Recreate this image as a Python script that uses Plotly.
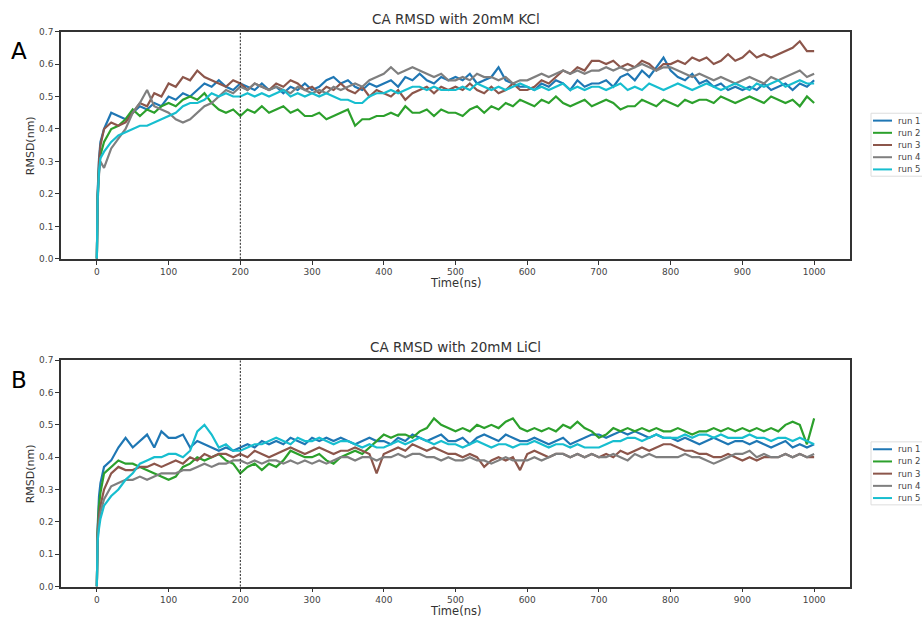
import plotly.graph_objects as go

time_ns = [0, 1, 3, 5] + list(range(10, 1001, 10))
run_names = ["run 1", "run 2", "run 3", "run 4", "run 5"]
run_colors = ["#1f77b4", "#2ca02c", "#8c564b", "#7f7f7f", "#17becf"]

kcl_run1 = [0.0, 0.20, 0.31, 0.36,
    0.40, 0.45, 0.44, 0.43, 0.45, 0.47, 0.46, 0.48, 0.47, 0.50,
    0.49, 0.51, 0.50, 0.52, 0.54, 0.53, 0.55, 0.53, 0.52, 0.54,
    0.53, 0.52, 0.54, 0.52, 0.53, 0.51, 0.53, 0.52, 0.54, 0.52,
    0.53, 0.55, 0.56, 0.54, 0.55, 0.53, 0.52, 0.54, 0.53, 0.54,
    0.55, 0.53, 0.56, 0.55, 0.57, 0.55, 0.54, 0.56, 0.55, 0.56,
    0.55, 0.57, 0.54, 0.55, 0.56, 0.59, 0.55, 0.54, 0.53, 0.53,
    0.52, 0.54, 0.53, 0.55, 0.54, 0.52, 0.55, 0.53, 0.54, 0.54,
    0.55, 0.53, 0.56, 0.57, 0.55, 0.58, 0.56, 0.59, 0.62, 0.58,
    0.56, 0.55, 0.57, 0.54, 0.55, 0.53, 0.54, 0.52, 0.53, 0.52,
    0.53, 0.52, 0.54, 0.52, 0.53, 0.54, 0.52, 0.54, 0.53, 0.55]
kcl_run2 = [0.0, 0.18, 0.28, 0.32,
    0.36, 0.40, 0.41, 0.43, 0.46, 0.44, 0.46, 0.45, 0.47, 0.48,
    0.47, 0.49, 0.50, 0.49, 0.51, 0.48, 0.46, 0.45, 0.46, 0.44,
    0.46, 0.45, 0.47, 0.45, 0.46, 0.47, 0.45, 0.46, 0.44, 0.44,
    0.45, 0.43, 0.44, 0.45, 0.46, 0.41, 0.43, 0.43, 0.44, 0.44,
    0.45, 0.44, 0.47, 0.45, 0.45, 0.46, 0.44, 0.46, 0.45, 0.45,
    0.44, 0.46, 0.47, 0.45, 0.47, 0.46, 0.48, 0.47, 0.49, 0.48,
    0.47, 0.49, 0.48, 0.50, 0.48, 0.47, 0.48, 0.49, 0.47, 0.48,
    0.49, 0.48, 0.46, 0.47, 0.47, 0.49, 0.48, 0.47, 0.49, 0.48,
    0.47, 0.49, 0.48, 0.49, 0.49, 0.48, 0.50, 0.49, 0.48, 0.49,
    0.50, 0.49, 0.48, 0.50, 0.49, 0.48, 0.49, 0.47, 0.50, 0.48]
kcl_run3 = [0.0, 0.19, 0.30, 0.35,
    0.40, 0.42, 0.41, 0.42, 0.45, 0.48, 0.47, 0.51, 0.50, 0.54,
    0.53, 0.56, 0.55, 0.58, 0.56, 0.55, 0.54, 0.53, 0.55, 0.54,
    0.52, 0.54, 0.53, 0.52, 0.54, 0.53, 0.55, 0.54, 0.52, 0.53,
    0.51, 0.53, 0.52, 0.54, 0.52, 0.51, 0.53, 0.50, 0.52, 0.51,
    0.50, 0.52, 0.49, 0.51, 0.52, 0.53, 0.51, 0.53, 0.52, 0.53,
    0.52, 0.54, 0.52, 0.51, 0.53, 0.51, 0.52, 0.54, 0.52, 0.52,
    0.53, 0.55, 0.54, 0.56, 0.58, 0.57, 0.59, 0.58, 0.61, 0.61,
    0.60, 0.61, 0.59, 0.60, 0.59, 0.61, 0.60, 0.58, 0.60, 0.60,
    0.61, 0.60, 0.62, 0.61, 0.62, 0.60, 0.61, 0.63, 0.61, 0.62,
    0.64, 0.62, 0.63, 0.62, 0.63, 0.64, 0.65, 0.67, 0.64, 0.64]
kcl_run4 = [0.0, 0.17, 0.26, 0.30,
    0.28, 0.34, 0.37, 0.40, 0.45, 0.48, 0.52, 0.47, 0.46, 0.45,
    0.43, 0.42, 0.43, 0.45, 0.47, 0.48, 0.50, 0.52, 0.51, 0.53,
    0.52, 0.54, 0.53, 0.52, 0.53, 0.52, 0.51, 0.53, 0.52, 0.51,
    0.52, 0.51, 0.53, 0.52, 0.53, 0.54, 0.53, 0.55, 0.56, 0.57,
    0.59, 0.57, 0.58, 0.59, 0.58, 0.57, 0.56, 0.57, 0.55, 0.55,
    0.56, 0.55, 0.57, 0.56, 0.56, 0.55, 0.56, 0.54, 0.55, 0.55,
    0.56, 0.57, 0.56, 0.57, 0.58, 0.57, 0.58, 0.57, 0.58, 0.58,
    0.59, 0.58, 0.59, 0.58, 0.59, 0.60, 0.59, 0.58, 0.59, 0.59,
    0.58, 0.57, 0.56, 0.57, 0.56, 0.55, 0.56, 0.55, 0.54, 0.55,
    0.56, 0.55, 0.54, 0.56, 0.55, 0.56, 0.57, 0.58, 0.56, 0.57]
kcl_run5 = [0.0, 0.18, 0.27, 0.31,
    0.33, 0.36, 0.38, 0.39, 0.40, 0.41, 0.41, 0.42, 0.43, 0.44,
    0.45, 0.47, 0.48, 0.48, 0.49, 0.51, 0.50, 0.51, 0.50, 0.50,
    0.51, 0.50, 0.51, 0.50, 0.51, 0.52, 0.50, 0.51, 0.50, 0.51,
    0.50, 0.51, 0.50, 0.49, 0.49, 0.48, 0.48, 0.50, 0.51, 0.51,
    0.52, 0.51, 0.52, 0.53, 0.53, 0.52, 0.53, 0.52, 0.52, 0.52,
    0.53, 0.52, 0.54, 0.53, 0.52, 0.53, 0.52, 0.53, 0.54, 0.53,
    0.52, 0.53, 0.52, 0.53, 0.54, 0.52, 0.53, 0.52, 0.53, 0.53,
    0.52, 0.53, 0.54, 0.52, 0.53, 0.52, 0.54, 0.53, 0.52, 0.53,
    0.54, 0.53, 0.52, 0.53, 0.54, 0.53, 0.52, 0.53, 0.54, 0.53,
    0.52, 0.54, 0.53, 0.54, 0.55, 0.53, 0.54, 0.55, 0.54, 0.54]

licl_run1 = [0.0, 0.18, 0.28, 0.32,
    0.37, 0.39, 0.43, 0.46, 0.43, 0.45, 0.47, 0.43, 0.48, 0.46,
    0.46, 0.47, 0.43, 0.45, 0.44, 0.43, 0.42, 0.43, 0.42, 0.43,
    0.44, 0.43, 0.45, 0.44, 0.45, 0.44, 0.46, 0.45, 0.44, 0.46,
    0.45, 0.46, 0.45, 0.46, 0.45, 0.44, 0.45, 0.46, 0.45, 0.45,
    0.44, 0.46, 0.45, 0.47, 0.46, 0.45, 0.46, 0.47, 0.45, 0.45,
    0.46, 0.44, 0.46, 0.47, 0.46, 0.45, 0.47, 0.46, 0.45, 0.45,
    0.46, 0.45, 0.44, 0.45, 0.46, 0.44, 0.45, 0.46, 0.47, 0.47,
    0.46, 0.47, 0.48, 0.47, 0.48, 0.47, 0.46, 0.47, 0.46, 0.46,
    0.45, 0.46, 0.45, 0.44, 0.45, 0.46, 0.45, 0.44, 0.45, 0.45,
    0.44, 0.45, 0.44, 0.43, 0.44, 0.45, 0.43, 0.44, 0.43, 0.44]
licl_run2 = [0.0, 0.17, 0.25, 0.29,
    0.35, 0.37, 0.39, 0.38, 0.38, 0.37, 0.36, 0.35, 0.34, 0.33,
    0.34, 0.37, 0.38, 0.40, 0.39, 0.40, 0.41, 0.39, 0.38, 0.35,
    0.37, 0.38, 0.36, 0.38, 0.37, 0.39, 0.42, 0.41, 0.40, 0.40,
    0.41, 0.39, 0.38, 0.40, 0.41, 0.42, 0.41, 0.43, 0.45, 0.47,
    0.46, 0.47, 0.47, 0.46, 0.48, 0.49, 0.52, 0.50, 0.49, 0.48,
    0.49, 0.48, 0.50, 0.49, 0.50, 0.49, 0.51, 0.52, 0.49, 0.48,
    0.49, 0.48, 0.49, 0.48, 0.50, 0.49, 0.51, 0.49, 0.48, 0.46,
    0.47, 0.49, 0.48, 0.49, 0.48, 0.49, 0.48, 0.49, 0.48, 0.48,
    0.49, 0.48, 0.47, 0.48, 0.48, 0.49, 0.48, 0.49, 0.48, 0.49,
    0.48, 0.49, 0.48, 0.49, 0.48, 0.50, 0.51, 0.50, 0.44, 0.52]
licl_run3 = [0.0, 0.16, 0.22, 0.25,
    0.30, 0.35, 0.37, 0.36, 0.36, 0.37, 0.37, 0.38, 0.37, 0.38,
    0.39, 0.38, 0.40, 0.39, 0.41, 0.40, 0.41, 0.41, 0.40, 0.41,
    0.40, 0.42, 0.41, 0.40, 0.41, 0.42, 0.43, 0.42, 0.41, 0.42,
    0.43, 0.42, 0.41, 0.42, 0.42, 0.43, 0.42, 0.41, 0.35, 0.41,
    0.42, 0.43, 0.42, 0.44, 0.43, 0.42, 0.43, 0.42, 0.41, 0.41,
    0.40, 0.41, 0.40, 0.37, 0.39, 0.40, 0.39, 0.40, 0.36, 0.41,
    0.42, 0.41, 0.40, 0.41, 0.41, 0.40, 0.41, 0.40, 0.41, 0.40,
    0.41, 0.40, 0.42, 0.41, 0.42, 0.43, 0.42, 0.43, 0.44, 0.44,
    0.43, 0.42, 0.42, 0.41, 0.41, 0.40, 0.40, 0.41, 0.40, 0.39,
    0.40, 0.39, 0.40, 0.40, 0.40, 0.41, 0.40, 0.41, 0.40, 0.40]
licl_run4 = [0.0, 0.15, 0.20, 0.23,
    0.27, 0.31, 0.32, 0.33, 0.33, 0.34, 0.33, 0.34, 0.35, 0.35,
    0.35, 0.36, 0.36, 0.37, 0.38, 0.37, 0.38, 0.38, 0.39, 0.39,
    0.38, 0.39, 0.38, 0.39, 0.39, 0.38, 0.39, 0.38, 0.39, 0.38,
    0.39, 0.38, 0.39, 0.40, 0.40, 0.39, 0.40, 0.40, 0.39, 0.40,
    0.40, 0.41, 0.40, 0.41, 0.41, 0.40, 0.40, 0.39, 0.40, 0.39,
    0.39, 0.40, 0.39, 0.39, 0.38, 0.39, 0.40, 0.39, 0.39, 0.39,
    0.40, 0.39, 0.40, 0.41, 0.41, 0.40, 0.41, 0.40, 0.41, 0.40,
    0.40, 0.41, 0.40, 0.39, 0.41, 0.40, 0.41, 0.40, 0.40, 0.40,
    0.40, 0.41, 0.40, 0.40, 0.39, 0.38, 0.39, 0.40, 0.41, 0.41,
    0.42, 0.40, 0.41, 0.40, 0.40, 0.41, 0.40, 0.41, 0.40, 0.41]
licl_run5 = [0.0, 0.14, 0.18, 0.21,
    0.25, 0.28, 0.30, 0.33, 0.35, 0.38, 0.39, 0.40, 0.40, 0.41,
    0.41, 0.40, 0.42, 0.48, 0.50, 0.47, 0.43, 0.44, 0.42, 0.42,
    0.43, 0.44, 0.44, 0.45, 0.46, 0.45, 0.44, 0.46, 0.45, 0.45,
    0.46, 0.45, 0.44, 0.45, 0.45, 0.44, 0.43, 0.44, 0.43, 0.43,
    0.44, 0.45, 0.44, 0.45, 0.46, 0.45, 0.44, 0.45, 0.44, 0.44,
    0.43, 0.44, 0.45, 0.44, 0.43, 0.44, 0.44, 0.43, 0.44, 0.44,
    0.45, 0.44, 0.43, 0.44, 0.44, 0.43, 0.44, 0.43, 0.43, 0.43,
    0.44, 0.45, 0.45, 0.46, 0.46, 0.45, 0.46, 0.47, 0.46, 0.46,
    0.46, 0.47, 0.46, 0.47, 0.47, 0.46, 0.47, 0.46, 0.46, 0.46,
    0.47, 0.46, 0.46, 0.45, 0.46, 0.46, 0.45, 0.46, 0.45, 0.44]

kcl_runs = [kcl_run1, kcl_run2, kcl_run3, kcl_run4, kcl_run5]
licl_runs = [licl_run1, licl_run2, licl_run3, licl_run4, licl_run5]
titles = ["CA RMSD with 20mM KCl", "CA RMSD with 20mM LiCl"]
panel_labels = ["A", "B"]
x_ticks = list(range(0, 1001, 100))
y_ticks = [0.0, 0.1, 0.2, 0.3, 0.4, 0.5, 0.6, 0.7]

W, H = 922, 623
FONT = "DejaVu Sans"

fig = go.Figure()

for k, runs in enumerate([kcl_runs, licl_runs]):
    xa = "x" if k == 0 else "x2"
    ya = "y" if k == 0 else "y2"
    for name, col, vals in zip(run_names, run_colors, runs):
        fig.add_trace(go.Scatter(x=time_ns, y=vals, mode="lines", name=name,
                                 line=dict(color=col, width=2.2),
                                 xaxis=xa, yaxis=ya, showlegend=False))

# pixel geometry of the two axes boxes
x_left, x_right = 61, 850
boxes = [(27, 258), (361, 591)]
legend_tops = [110, 444]

axis_common = dict(showline=True, mirror=True, linecolor="#333333", linewidth=1.5,
                   ticks="outside", ticklen=4, tickcolor="#333333",
                   showgrid=False, zeroline=False,
                   tickfont=dict(family=FONT, size=9, color="#444444"))

layout = dict(width=W, height=H, margin=dict(l=0, r=0, t=0, b=0),
              paper_bgcolor="white", plot_bgcolor="white",
              font=dict(family=FONT), showlegend=False)

for k, (top, bot) in enumerate(boxes):
    sfx = "" if k == 0 else "2"
    layout["xaxis" + sfx] = dict(axis_common, domain=[x_left / W, x_right / W],
                                 range=[-50, 1050], tickvals=x_ticks,
                                 anchor="y" + sfx)
    layout["yaxis" + sfx] = dict(axis_common, domain=[1 - bot / H, 1 - top / H],
                                 range=[0, 0.7], tickvals=y_ticks, tickformat=".1f",
                                 anchor="x" + sfx)

fig.update_layout(**layout)

annotations = []
shapes = []
for k, (top, bot) in enumerate(boxes):
    sfx = "" if k == 0 else "2"
    annotations.append(dict(text=titles[k], x=(x_left + x_right) / 2 / W, y=1 - (top - 3) / H,
                            xref="paper", yref="paper", xanchor="center", yanchor="bottom",
                            showarrow=False, font=dict(family=FONT, size=13.5, color="#333333")))
    annotations.append(dict(text=panel_labels[k], x=9 / W, y=1 - (top + 20) / H,
                            xref="paper", yref="paper", xanchor="left", yanchor="middle",
                            showarrow=False, font=dict(family=FONT, size=23, color="black")))
    annotations.append(dict(text="Time(ns)", x=(x_left + x_right) / 2 / W, y=1 - (bot + 25) / H,
                            xref="paper", yref="paper", xanchor="center", yanchor="middle",
                            showarrow=False, font=dict(family=FONT, size=11.5, color="#333333")))
    annotations.append(dict(text="RMSD(nm)", x=30 / W, y=1 - (top + bot) / 2 / H,
                            xref="paper", yref="paper", xanchor="center", yanchor="middle",
                            textangle=-90, showarrow=False,
                            font=dict(family=FONT, size=11, color="#333333")))
    shapes.append(dict(type="line", xref="x" + sfx, yref="y" + sfx + " domain",
                       x0=200, x1=200, y0=0, y1=1,
                       line=dict(color="#222222", width=1, dash="2px,1.5px")))
    lt = legend_tops[k]
    shapes.append(dict(type="rect", xref="paper", yref="paper",
                       x0=871 / W, x1=1.02, y0=1 - (lt + 64) / H, y1=1 - lt / H,
                       line=dict(color="#dddddd", width=1), fillcolor="white"))
    for i, (name, col) in enumerate(zip(run_names, run_colors)):
        yy = 1 - (lt + 7.5 + i * 12.4) / H
        shapes.append(dict(type="line", xref="paper", yref="paper",
                           x0=873 / W, x1=892 / W, y0=yy, y1=yy,
                           line=dict(color=col, width=2)))
        annotations.append(dict(text=name, x=896 / W, y=yy, xref="paper", yref="paper",
                                xanchor="left", yanchor="middle", showarrow=False,
                                font=dict(family=FONT, size=8.5, color="#444444")))

fig.update_layout(annotations=annotations, shapes=shapes)

fig.write_html("out.html", config={"displayModeBar": False},
               post_script="document.body.style.margin='0';document.body.style.overflow='hidden';")
